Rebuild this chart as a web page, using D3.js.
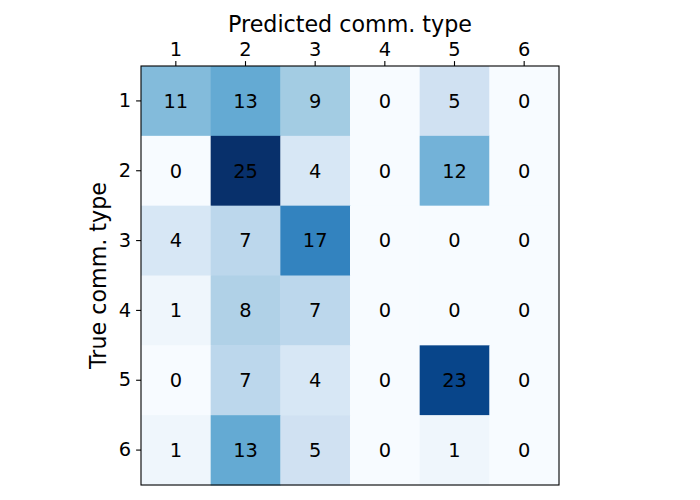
<!DOCTYPE html>
<html>
<head>
<meta charset="utf-8">
<script src="https://cdn.jsdelivr.net/npm/d3@7"></script>
<style>
  html, body { margin: 0; padding: 0; background: #fff; }
  svg { display: block; font-family: "DejaVu Sans", sans-serif; }
</style>
</head>
<body>
<svg id="chart" width="700" height="500"></svg>
<script>
// Confusion matrix: true comm. type (rows) vs predicted comm. type (columns)
const trueTypes = ["1", "2", "3", "4", "5", "6"];
const predTypes = ["1", "2", "3", "4", "5", "6"];
const counts = [
  [11, 13, 9, 0, 5, 0],
  [0, 25, 4, 0, 12, 0],
  [4, 7, 17, 0, 0, 0],
  [1, 8, 7, 0, 0, 0],
  [0, 7, 4, 0, 23, 0],
  [1, 13, 5, 0, 1, 0]
];
// matplotlib "Blues" anchors
const bluesStops = ["#f7fbff", "#deebf7", "#c6dbef", "#9ecae1", "#6baed6",
                    "#4292c6", "#2171b5", "#08519c", "#08306b"];

(function () {
  "use strict";

  const svg = d3.select("#chart");
  const left = 141, top = 66, right = 559, bottom = 485;

  const x = d3.scaleBand().domain(predTypes).range([left, right]);
  const y = d3.scaleBand().domain(trueTypes).range([top, bottom]);

  const vmax = d3.max(counts.flat());
  const color = d3.scaleLinear()
    .domain(bluesStops.map((_, i) => i * vmax / (bluesStops.length - 1)))
    .range(bluesStops)
    .interpolate(d3.interpolateRgb);

  const cells = [];
  counts.forEach((row, i) => row.forEach((v, j) => {
    cells.push({ t: trueTypes[i], p: predTypes[j], v });
  }));

  const g = svg.append("g");
  g.selectAll("rect.cell").data(cells).enter().append("rect")
    .attr("class", "cell")
    .attr("x", d => x(d.p))
    .attr("y", d => y(d.t))
    .attr("width", x.bandwidth() + 0.5)
    .attr("height", y.bandwidth() + 0.5)
    .attr("fill", d => color(d.v));

  g.selectAll("text.val").data(cells).enter().append("text")
    .attr("class", "val")
    .attr("x", d => x(d.p) + x.bandwidth() / 2)
    .attr("y", d => y(d.t) + y.bandwidth() / 2)
    .attr("dy", "0.35em")
    .attr("text-anchor", "middle")
    .attr("font-size", "19.4px")
    .attr("fill", "#000")
    .text(d => d.v);

  // frame
  svg.append("rect")
    .attr("x", left).attr("y", top)
    .attr("width", right - left).attr("height", bottom - top)
    .attr("fill", "none").attr("stroke", "#000").attr("stroke-width", 1.1);

  function styleAxis(sel) {
    sel.attr("font-family", "DejaVu Sans, sans-serif").attr("font-size", "19.4px");
    sel.select(".domain").remove();
    sel.selectAll(".tick line").attr("stroke", "#000").attr("stroke-width", 1.1);
    sel.selectAll(".tick text").attr("fill", "#000").attr("font-size", "19.4px");
  }

  svg.append("g")
    .attr("transform", `translate(0,${top})`)
    .call(d3.axisTop(x).tickSize(4.9).tickPadding(4.9))
    .call(styleAxis);

  svg.append("g")
    .attr("transform", `translate(${left},0)`)
    .call(d3.axisLeft(y).tickSize(4.9).tickPadding(4.9))
    .call(styleAxis);

  svg.append("text")
    .attr("x", (left + right) / 2)
    .attr("y", 32)
    .attr("text-anchor", "middle")
    .attr("font-size", "22.2px")
    .text("Predicted comm. type");

  svg.append("text")
    .attr("transform", `translate(106,${(top + bottom) / 2}) rotate(-90)`)
    .attr("text-anchor", "middle")
    .attr("font-size", "22.2px")
    .text("True comm. type");
})();
</script>
</body>
</html>
